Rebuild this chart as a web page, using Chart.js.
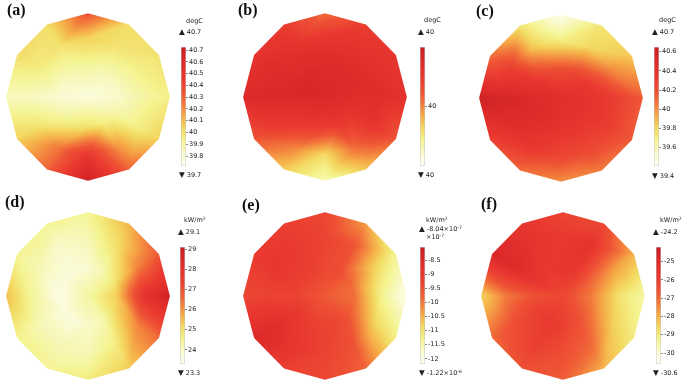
<!DOCTYPE html>
<html>
<head>
<meta charset="utf-8">
<script src="https://cdn.jsdelivr.net/npm/chart.js@4/dist/chart.umd.min.js"></script>
<style>
  html, body { margin: 0; padding: 0; background: #fff; }
  #fig { position: relative; width: 685px; height: 383px; overflow: hidden; font-family: "DejaVu Sans", sans-serif; color: #222; }
  #fig canvas { position: absolute; }
  .tag { position: absolute; font: bold 16px "Liberation Serif", serif; line-height: 16px; color: #111; }
  .txt { position: absolute; font-size: 6.5px; line-height: 8px; white-space: nowrap; }
  .txt sup { font-size: 4.5px; vertical-align: 0; position: relative; top: -2.5px; }
  .tri { font-size: 7.5px; margin-right: 2px; }
</style>
</head>
<body>
<div id="fig"></div>
<script>
// mesh nodes: centre + three rings, angle 90 = top, going clockwise
const nodeAngles = [90, 60, 30, 0, -30, -60, -90, -120, -150, 180, 150, 120];
const ringRadii = [0.35, 0.7, 1];

// (a) temperature, degC
const aCenter = 39.8;
const aInner = [39.9, 39.87, 39.85, 39.83, 39.88, 39.95, 40.0, 39.95, 39.88, 39.82, 39.85, 39.88];
const aMiddle = [40.05, 40.0, 39.95, 39.9, 39.95, 40.2, 40.5, 40.25, 40.0, 39.85, 39.97, 40.0];
const aOuter = [40.35, 40.02, 40.0, 39.95, 40.05, 40.3, 40.7, 40.3, 40.05, 39.85, 40.02, 40.02];
const aRange = [39.715, 40.727];
const aTicks = [39.8, 39.9, 40, 40.1, 40.2, 40.3, 40.4, 40.5, 40.6, 40.7];

// (b) temperature, degC (very narrow range)
const bCenter = 40.004;
const bInner = [40.0038, 40.0038, 40.0038, 40.0035, 40.003, 40.0028, 40.0025, 40.0028, 40.0032, 40.004, 40.004, 40.004];
const bMiddle = [40.0028, 40.003, 40.0032, 40.0035, 40.0028, 40.0005, 39.998, 40.0, 40.0025, 40.004, 40.0037, 40.003];
const bOuter = [40.0005, 40.0022, 40.0028, 40.003, 40.0012, 39.9985, 39.9965, 39.9985, 40.0012, 40.0038, 40.003, 40.0022];
const bRange = [39.995, 40.005];
const bTicks = [40];

// (c) temperature, degC
const cCenter = 40.45;
const cInner = [40.2, 40.25, 40.35, 40.4, 40.4, 40.4, 40.4, 40.45, 40.5, 40.5, 40.4, 40.25];
const cMiddle = [39.7, 39.8, 40.0, 40.3, 40.3, 40.25, 40.25, 40.35, 40.45, 40.55, 40.3, 39.85];
const cOuter = [39.45, 39.75, 39.85, 40.15, 40.15, 40.05, 40.0, 40.1, 40.3, 40.6, 40.1, 39.75];
const cRange = [39.41, 40.65];
const cTicks = [39.6, 39.8, 40, 40.2, 40.4, 40.6];

// (d) heat flux, kW/m2
const dCenter = 24.35;
const dInner = [23.9, 24.2, 24.75, 25.3, 25.0, 24.2, 24.0, 23.8, 23.8, 23.65, 23.8, 23.8];
const dMiddle = [24.2, 25.0, 26.2, 28.0, 26.2, 24.75, 24.2, 24.2, 24.2, 24.5, 24.2, 24.0];
const dOuter = [24.5, 25.6, 26.8, 28.9, 26.5, 25.3, 24.75, 24.5, 24.6, 25.5, 24.5, 24.5];
const dRange = [23.3, 29.1];
const dTicks = [24, 25, 26, 27, 28, 29];

// (e) heat flux, x1e-7 kW/m2
const eCenter = -9.7;
const eInner = [-9.4, -9.5, -9.8, -9.9, -9.7, -9.4, -9.3, -9.2, -9.1, -9.3, -9.2, -9.2];
const eMiddle = [-9.3, -9.6, -10.8, -11.3, -10.8, -9.6, -9.3, -9.0, -8.7, -9.3, -9.0, -9.1];
const eOuter = [-9.4, -10.3, -11.3, -12.0, -11.2, -9.8, -9.4, -9.2, -8.5, -9.4, -9.1, -9.2];
const eRange = [-12.18, -8.04];
const eTicks = [-12, -11.5, -11, -10.5, -10, -9.5, -9, -8.5];

// (f) heat flux, kW/m2
const fCenter = -26.3;
const fInner = [-25.6, -25.8, -26.8, -27.3, -27.0, -26.5, -26.0, -25.8, -26.0, -26.6, -25.6, -25.8];
const fMiddle = [-25.8, -25.5, -27.6, -28.8, -28.4, -27.0, -26.5, -26.0, -26.5, -27.3, -25.0, -25.5];
const fOuter = [-26.2, -26.3, -28.0, -29.5, -29.0, -28.0, -26.8, -26.5, -27.0, -28.5, -24.8, -25.6];
const fRange = [-30.6, -24.2];
const fTicks = [-30, -29, -28, -27, -26, -25];

const cmapStops = [
  [0.00, [255, 255, 248]],
  [0.10, [250, 250, 212]],
  [0.22, [244, 243, 142]],
  [0.32, [243, 216, 96]],
  [0.42, [245, 172, 72]],
  [0.52, [242, 122, 60]],
  [0.62, [238, 82, 52]],
  [0.75, [233, 56, 48]],
  [0.88, [222, 42, 42]],
  [1.00, [196, 30, 35]],
];

function cmap(t) {
  t = Math.min(1, Math.max(0, t));
  for (let i = 1; i < cmapStops.length; i++) {
    const [t1, c1] = cmapStops[i];
    if (t <= t1) {
      const [t0, c0] = cmapStops[i - 1];
      const f = (t - t0) / (t1 - t0);
      return [0, 1, 2].map(j => c0[j] + (c1[j] - c0[j]) * f);
    }
  }
  return cmapStops[cmapStops.length - 1][1];
}

const panels = [
  { tag: '(a)', tagX: 7, tagY: 2, cx: 88, cy: 97, center: aCenter, rings: [aInner, aMiddle, aOuter], range: aRange, ticks: aTicks,
    barX: 181, barTop: 47, barBot: 166, unit: 'degC', unitX: 186, unitY: 17, hi: '40.7', lo: '39.7', limX: 179, hiY: 28, loY: 171 },
  { tag: '(b)', tagX: 238, tagY: 2, cx: 325, cy: 97, center: bCenter, rings: [bInner, bMiddle, bOuter], range: bRange, ticks: bTicks,
    barX: 420, barTop: 47, barBot: 166, unit: 'degC', unitX: 424, unitY: 16, hi: '40', lo: '40', limX: 418, hiY: 28, loY: 171 },
  { tag: '(c)', tagX: 476, tagY: 3, cx: 561, cy: 98, center: cCenter, rings: [cInner, cMiddle, cOuter], range: cRange, ticks: cTicks,
    barX: 654, barTop: 47, barBot: 166, unit: 'degC', unitX: 659, unitY: 16, hi: '40.7', lo: '39.4', limX: 652, hiY: 28, loY: 172 },
  { tag: '(d)', tagX: 5, tagY: 194, cx: 88, cy: 296, center: dCenter, rings: [dInner, dMiddle, dOuter], range: dRange, ticks: dTicks,
    barX: 180, barTop: 247, barBot: 364, unit: 'kW/m<sup>2</sup>', unitX: 184, unitY: 216, hi: '29.1', lo: '23.3', limX: 178, hiY: 228, loY: 369 },
  { tag: '(e)', tagX: 242, tagY: 197, cx: 325, cy: 296, center: eCenter, rings: [eInner, eMiddle, eOuter], range: eRange, ticks: eTicks,
    barX: 420, barTop: 247, barBot: 364, unit: 'kW/m<sup>2</sup>', unitX: 426, unitY: 216, hi: '-8.04×10<sup>-7</sup>', lo: '-1.22×10<sup>-6</sup>',
    limX: 419, hiY: 225, loY: 369, expo: '×10<sup>-7</sup>', expoX: 426, expoY: 233 },
  { tag: '(f)', tagX: 481, tagY: 196, cx: 563, cy: 296, center: fCenter, rings: [fInner, fMiddle, fOuter], range: fRange, ticks: fTicks,
    barX: 656, barTop: 247, barBot: 364, unit: 'kW/m<sup>2</sup>', unitX: 660, unitY: 216, hi: '-24.2', lo: '-30.6', limX: 653, hiY: 228, loY: 369 },
];

// triangles: centre fan, then quads between neighbouring rings split in two
const triangles = [];
for (let k = 0; k < 12; k++) {
  const n = (k + 1) % 12;
  triangles.push([0, 1 + k, 1 + n]);
  for (let r = 0; r < 2; r++) {
    const a = 1 + r * 12, b = 1 + (r + 1) * 12;
    triangles.push([a + k, b + k, b + n]);
    triangles.push([a + k, b + n, a + n]);
  }
}

const meshPlugin = {
  id: 'mesh',
  afterDatasetsDraw(chart, args, opts) {
    const { ctx, chartArea, scales: { x, y } } = chart;
    const nodes = chart.data.datasets[0].data;
    const px = nodes.map(p => [x.getPixelForValue(p.x), y.getPixelForValue(p.y)]);
    const tris = triangles.map(([i, j, k]) => {
      const [x1, y1] = px[i], [x2, y2] = px[j], [x3, y3] = px[k];
      return { x1, y1, x2, y2, x3, y3, d: (y2 - y3) * (x1 - x3) + (x3 - x2) * (y1 - y3),
        v: [nodes[i].v, nodes[j].v, nodes[k].v] };
    });
    const w = Math.round(chartArea.right - chartArea.left);
    const h = Math.round(chartArea.bottom - chartArea.top);
    const off = document.createElement('canvas');
    off.width = w; off.height = h;
    const octx = off.getContext('2d');
    const img = octx.createImageData(w, h);
    const [vmin, vmax] = opts.range;
    for (let j = 0; j < h; j++) {
      for (let i = 0; i < w; i++) {
        const qx = chartArea.left + i + 0.5, qy = chartArea.top + j + 0.5;
        let best = null, bestMin = -Infinity;
        for (const t of tris) {
          const l1 = ((t.y2 - t.y3) * (qx - t.x3) + (t.x3 - t.x2) * (qy - t.y3)) / t.d;
          const l2 = ((t.y3 - t.y1) * (qx - t.x3) + (t.x1 - t.x3) * (qy - t.y3)) / t.d;
          const l3 = 1 - l1 - l2;
          const m = Math.min(l1, l2, l3);
          if (m > bestMin) { bestMin = m; best = [t, l1, l2, l3]; if (m >= 0) break; }
        }
        if (bestMin < -0.3) continue;
        const [t, l1, l2, l3] = best;
        const w1 = Math.max(0, l1), w2 = Math.max(0, l2), w3 = Math.max(0, l3), s = w1 + w2 + w3;
        const v = (w1 * t.v[0] + w2 * t.v[1] + w3 * t.v[2]) / s;
        const c = cmap((v - vmin) / (vmax - vmin));
        const o = (j * w + i) * 4;
        img.data[o] = c[0]; img.data[o + 1] = c[1]; img.data[o + 2] = c[2]; img.data[o + 3] = 255;
      }
    }
    octx.putImageData(img, 0, 0);
    ctx.save();
    ctx.beginPath();
    px.slice(25).forEach(([a, b], i) => (i ? ctx.lineTo(a, b) : ctx.moveTo(a, b)));
    ctx.closePath();
    ctx.clip();
    ctx.drawImage(off, chartArea.left, chartArea.top);
    ctx.restore();
  },
};

const fig = document.getElementById('fig');
const RX = 82, RY = 84, SPAN = 1.05;

function addText(cls, html, left, top) {
  const el = document.createElement('div');
  el.className = cls;
  el.innerHTML = html;
  el.style.left = left + 'px';
  el.style.top = top + 'px';
  fig.appendChild(el);
}

panels.forEach(p => {
  // field
  const nodes = [{ x: 0, y: 0, v: p.center }];
  p.rings.forEach((ring, r) => {
    ring.forEach((v, k) => {
      const a = nodeAngles[k] * Math.PI / 180;
      nodes.push({ x: ringRadii[r] * Math.cos(a), y: ringRadii[r] * Math.sin(a), v });
    });
  });
  const cv = document.createElement('canvas');
  cv.width = Math.round(2 * SPAN * RX);
  cv.height = Math.round(2 * SPAN * RY);
  cv.style.left = (p.cx - cv.width / 2) + 'px';
  cv.style.top = (p.cy - cv.height / 2) + 'px';
  fig.appendChild(cv);
  new Chart(cv, {
    type: 'scatter',
    data: { datasets: [{ data: nodes, pointRadius: 0 }] },
    options: {
      responsive: false, animation: false, devicePixelRatio: 1,
      layout: { padding: 0 },
      plugins: { legend: { display: false }, tooltip: { enabled: false }, mesh: { range: p.range } },
      scales: {
        x: { type: 'linear', min: -SPAN, max: SPAN, display: false },
        y: { type: 'linear', min: -SPAN, max: SPAN, display: false },
      },
    },
    plugins: [meshPlugin],
  });

  // colour bar
  const bar = document.createElement('canvas');
  bar.width = 5 + 34;
  bar.height = p.barBot - p.barTop + 20;
  bar.style.left = p.barX + 'px';
  bar.style.top = (p.barTop - 10) + 'px';
  fig.appendChild(bar);
  const [vmin, vmax] = p.range;
  new Chart(bar, {
    type: 'bar',
    data: {
      labels: [''],
      datasets: [{
        data: [[vmin, vmax]],
        backgroundColor: (c) => {
          const ys = c.chart.scales.y;
          if (!ys || !c.chart.chartArea) return '#eee';
          const g = c.chart.ctx.createLinearGradient(0, ys.getPixelForValue(vmin), 0, ys.getPixelForValue(vmax));
          cmapStops.forEach(([t, rgb]) => g.addColorStop(t, `rgb(${rgb.join(',')})`));
          return g;
        },
        borderColor: '#c4c4c4', borderWidth: 0.8, borderSkipped: false,
        categoryPercentage: 1, barPercentage: 1,
      }],
    },
    options: {
      responsive: false, animation: false, devicePixelRatio: 1,
      layout: { padding: { top: 10, bottom: 10, left: 0, right: 0 } },
      plugins: { legend: { display: false }, tooltip: { enabled: false } },
      scales: {
        x: { display: false },
        y: {
          position: 'right', min: vmin, max: vmax,
          afterBuildTicks: (s) => { s.ticks = p.ticks.map(v => ({ value: v })); },
          afterFit: (s) => { s.width = 34; },
          grid: { drawOnChartArea: false, drawTicks: true, tickLength: 2, color: '#888' },
          border: { display: false },
          ticks: { padding: 1, color: '#222', font: { family: 'DejaVu Sans', size: 6.5 }, callback: (v) => String(v) },
        },
      },
    },
  });

  // labels
  addText('tag', p.tag, p.tagX, p.tagY);
  addText('txt', p.unit, p.unitX, p.unitY);
  addText('txt', '<span class="tri">▲</span>' + p.hi, p.limX, p.hiY);
  addText('txt', '<span class="tri">▼</span>' + p.lo, p.limX, p.loY);
  if (p.expo) addText('txt', p.expo, p.expoX, p.expoY);
});
</script>
</body>
</html>
